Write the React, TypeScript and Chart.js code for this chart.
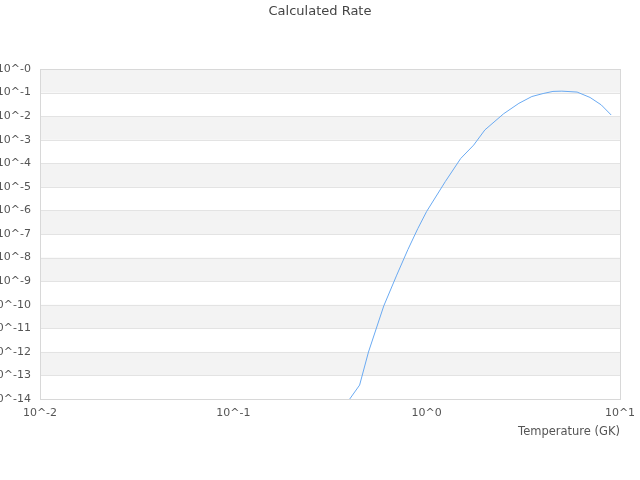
import { useEffect, useRef } from 'react'
import { Chart, registerables } from 'chart.js'

Chart.register(...registerables)

// temperature grid (GK) and calculated rate
const temperatures = [0.4, 0.45, 0.5, 0.6, 0.7, 0.8, 0.9, 1.0, 1.25, 1.5, 1.75, 2.0, 2.5, 3.0, 3.5, 4.0, 4.5, 5.0, 6.0, 7.0, 8.0, 9.0]
const rates = [
  1.0e-14, 3.9e-14, 9.8e-13, 8.9e-11, 1.8e-9, 2.2e-8, 1.7e-7, 9.1e-7,
  1.7e-5, 1.6e-4, 5.9e-4, 2.6e-3, 1.26e-2, 3.5e-2, 6.8e-2, 9.1e-2,
  0.112, 0.115, 0.105, 0.062, 0.030, 0.0112,
]

const xTicks = [0.01, 0.1, 1, 10]
const xTickLabels = ['10^-2', '10^-1', '10^0', '10^1']
const yTicks = [1, 1e-1, 1e-2, 1e-3, 1e-4, 1e-5, 1e-6, 1e-7, 1e-8, 1e-9, 1e-10, 1e-11, 1e-12, 1e-13, 1e-14]
const yTickLabels = ['10^-0', '10^-1', '10^-2', '10^-3', '10^-4', '10^-5', '10^-6', '10^-7', '10^-8', '10^-9', '10^-10', '10^-11', '10^-12', '10^-13', '10^-14']

const C = {
  band:   '#f3f3f3',
  grid:   '#e3e3e3',
  frame:  '#d8d8d8',
  line:   '#6aaaf2',
  tick:   '#555555',
  title:  '#444444',
}

const FONT = "'DejaVu Sans', sans-serif"

const nearestLabel = (ticks: number[], labels: string[], v: number) => {
  let best = 0
  ticks.forEach((t, i) => {
    if (Math.abs(Math.log10(t) - Math.log10(v)) < Math.abs(Math.log10(ticks[best]) - Math.log10(v))) best = i
  })
  return labels[best]
}

const bandPlugin = {
  id: 'bands',
  beforeDatasetsDraw(chart: Chart) {
    const { ctx, chartArea: a, scales } = chart
    const y = scales.y
    ctx.save()
    for (let i = 0; i < yTicks.length - 1; i += 2) {
      const top = y.getPixelForValue(yTicks[i])
      const bot = y.getPixelForValue(yTicks[i + 1])
      ctx.fillStyle = C.band
      ctx.fillRect(a.left, top, a.right - a.left, bot - top)
    }
    ctx.strokeStyle = C.grid
    ctx.lineWidth = 1
    yTicks.forEach(t => {
      const p = Math.round(y.getPixelForValue(t)) + 0.5
      ctx.beginPath(); ctx.moveTo(a.left, p); ctx.lineTo(a.right, p); ctx.stroke()
    })
    ctx.strokeStyle = C.frame
    ctx.strokeRect(Math.round(a.left) + 0.5, Math.round(a.top) + 0.5, Math.round(a.right - a.left), Math.round(a.bottom - a.top))
    ctx.restore()
  },
}

function RateChart() {
  const canvasRef = useRef<HTMLCanvasElement>(null)
  const chartRef = useRef<Chart | null>(null)

  useEffect(() => {
    if (!canvasRef.current) return
    if (chartRef.current) { chartRef.current.destroy(); chartRef.current = null }

    chartRef.current = new Chart(canvasRef.current, {
      type: 'line',
      data: {
        datasets: [{
          label: 'Rate',
          data: temperatures.map((t, i) => ({ x: t, y: rates[i] })),
          borderColor: C.line,
          backgroundColor: C.line,
          borderWidth: 1,
          pointRadius: 0,
          tension: 0,
        }],
      },
      options: {
        responsive: true,
        maintainAspectRatio: false,
        animation: false,
        layout: { padding: { left: 0, right: 0, top: 0, bottom: 37 } },
        plugins: {
          legend: { display: false },
          tooltip: { enabled: false },
          title: {
            display: true,
            text: 'Calculated Rate',
            color: C.title,
            font: { family: FONT, size: 13, weight: 'normal' },
            padding: { top: 4, bottom: 49.4 },
          },
        },
        scales: {
          x: {
            type: 'logarithmic',
            min: 0.01,
            max: 10,
            afterBuildTicks: (s: any) => { s.ticks = xTicks.map(v => ({ value: v })) },
            afterFit: (s: any) => { s.paddingRight = 20 },
            grid: { display: false, drawTicks: false },
            border: { display: false },
            ticks: {
              color: C.tick,
              padding: 8,
              maxRotation: 0,
              autoSkip: false,
              font: { family: FONT, size: 11 },
              callback: (v: any) => nearestLabel(xTicks, xTickLabels, Number(v)),
            },
            title: {
              display: true,
              text: 'Temperature (GK)',
              align: 'end',
              color: C.tick,
              font: { family: FONT, size: 11.5 },
              padding: { top: -3, bottom: 4 },
            },
          },
          y: {
            type: 'logarithmic',
            min: 1e-14,
            max: 1,
            afterBuildTicks: (s: any) => { s.ticks = yTicks.map(v => ({ value: v })) },
            afterFit: (s: any) => { s.width = 40 },
            grid: { display: false, drawTicks: false },
            border: { display: false },
            ticks: {
              color: C.tick,
              padding: 9,
              autoSkip: false,
              font: { family: FONT, size: 11 },
              callback: (v: any) => nearestLabel(yTicks, yTickLabels, Number(v)),
            },
          },
        },
      },
      plugins: [bandPlugin],
    })

    return () => { chartRef.current?.destroy(); chartRef.current = null }
  }, [])

  return <canvas ref={canvasRef} style={{ width: '100%', height: '100%' }} />
}

export default function App() {
  return (
    <div style={{ position: 'fixed', left: 0, top: 0, width: 640, height: 480, background: '#fff' }}>
      <RateChart />
    </div>
  )
}
